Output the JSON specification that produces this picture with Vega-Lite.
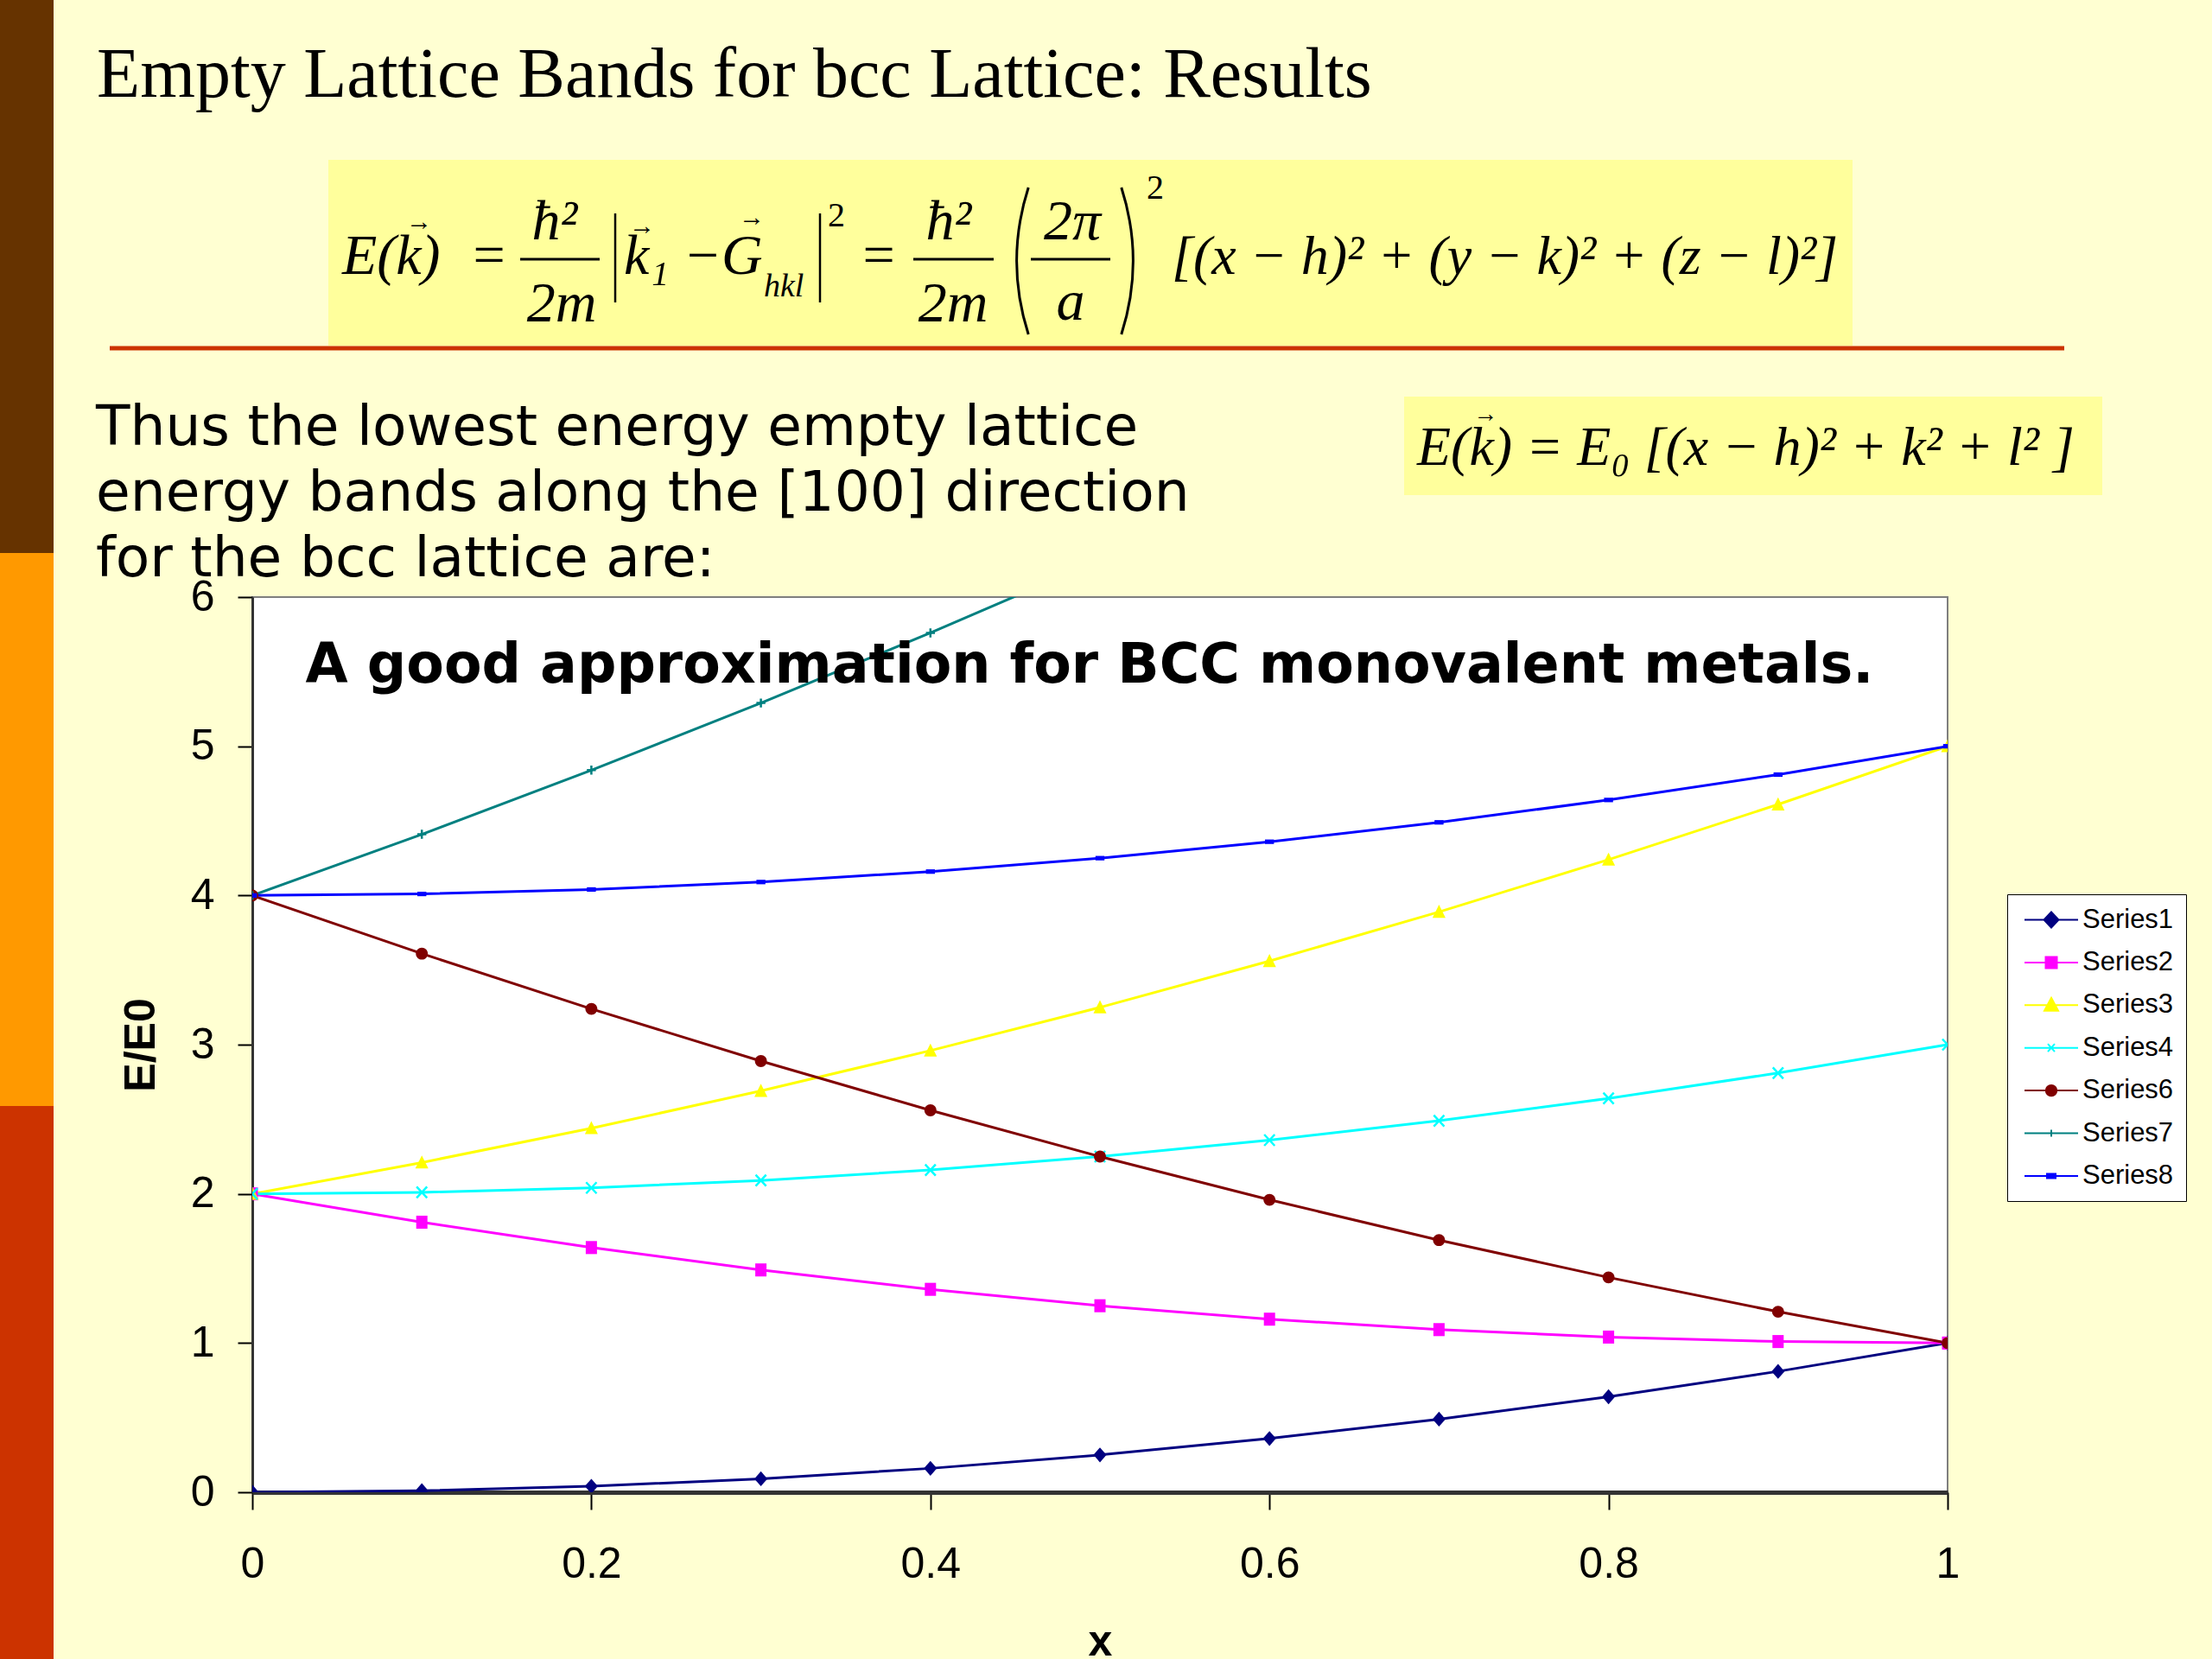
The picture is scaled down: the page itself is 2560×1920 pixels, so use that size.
{
  "$schema": "https://vega.github.io/schema/vega-lite/v6.json",
  "width": 1962,
  "height": 1036,
  "autosize": {"type": "none"},
  "padding": {"left": 292, "top": 691, "right": 306, "bottom": 193},
  "background": "#FFFFD2",
  "config": {
    "view": {"fill": "white", "stroke": "#7f7f7f", "strokeWidth": 2},
    "axis": {"grid": false, "labelFont": "Liberation Sans", "labelFontSize": 50, "labelColor": "black", "titleFont": "Liberation Sans", "titleFontSize": 50, "titleFontWeight": "bold", "titleColor": "black", "tickColor": "black", "tickWidth": 2, "labelFlush": false},
    "axisX": {"domainColor": "#333333", "domainWidth": 5, "tickSize": 20, "labelPadding": 38, "titlePadding": 40},
    "axisY": {"domainColor": "#333333", "domainWidth": 3, "tickSize": 17, "labelPadding": 27, "titlePadding": 32}
  },
  "data": {"values": [
    {"x": 0, "y": 0, "s": "Series1"}, {"x": 0.1, "y": 0.01, "s": "Series1"}, {"x": 0.2, "y": 0.04, "s": "Series1"}, {"x": 0.3, "y": 0.09, "s": "Series1"}, {"x": 0.4, "y": 0.16, "s": "Series1"}, {"x": 0.5, "y": 0.25, "s": "Series1"}, {"x": 0.6, "y": 0.36, "s": "Series1"}, {"x": 0.7, "y": 0.49, "s": "Series1"}, {"x": 0.8, "y": 0.64, "s": "Series1"}, {"x": 0.9, "y": 0.81, "s": "Series1"}, {"x": 1, "y": 1, "s": "Series1"},
    {"x": 0, "y": 2, "s": "Series2"}, {"x": 0.1, "y": 1.81, "s": "Series2"}, {"x": 0.2, "y": 1.64, "s": "Series2"}, {"x": 0.3, "y": 1.49, "s": "Series2"}, {"x": 0.4, "y": 1.36, "s": "Series2"}, {"x": 0.5, "y": 1.25, "s": "Series2"}, {"x": 0.6, "y": 1.16, "s": "Series2"}, {"x": 0.7, "y": 1.09, "s": "Series2"}, {"x": 0.8, "y": 1.04, "s": "Series2"}, {"x": 0.9, "y": 1.01, "s": "Series2"}, {"x": 1, "y": 1, "s": "Series2"},
    {"x": 0, "y": 2, "s": "Series3"}, {"x": 0.1, "y": 2.21, "s": "Series3"}, {"x": 0.2, "y": 2.44, "s": "Series3"}, {"x": 0.3, "y": 2.69, "s": "Series3"}, {"x": 0.4, "y": 2.96, "s": "Series3"}, {"x": 0.5, "y": 3.25, "s": "Series3"}, {"x": 0.6, "y": 3.56, "s": "Series3"}, {"x": 0.7, "y": 3.89, "s": "Series3"}, {"x": 0.8, "y": 4.24, "s": "Series3"}, {"x": 0.9, "y": 4.61, "s": "Series3"}, {"x": 1, "y": 5, "s": "Series3"},
    {"x": 0, "y": 2, "s": "Series4"}, {"x": 0.1, "y": 2.01, "s": "Series4"}, {"x": 0.2, "y": 2.04, "s": "Series4"}, {"x": 0.3, "y": 2.09, "s": "Series4"}, {"x": 0.4, "y": 2.16, "s": "Series4"}, {"x": 0.5, "y": 2.25, "s": "Series4"}, {"x": 0.6, "y": 2.36, "s": "Series4"}, {"x": 0.7, "y": 2.49, "s": "Series4"}, {"x": 0.8, "y": 2.64, "s": "Series4"}, {"x": 0.9, "y": 2.81, "s": "Series4"}, {"x": 1, "y": 3, "s": "Series4"},
    {"x": 0, "y": 4, "s": "Series6"}, {"x": 0.1, "y": 3.61, "s": "Series6"}, {"x": 0.2, "y": 3.24, "s": "Series6"}, {"x": 0.3, "y": 2.89, "s": "Series6"}, {"x": 0.4, "y": 2.56, "s": "Series6"}, {"x": 0.5, "y": 2.25, "s": "Series6"}, {"x": 0.6, "y": 1.96, "s": "Series6"}, {"x": 0.7, "y": 1.69, "s": "Series6"}, {"x": 0.8, "y": 1.44, "s": "Series6"}, {"x": 0.9, "y": 1.21, "s": "Series6"}, {"x": 1, "y": 1, "s": "Series6"},
    {"x": 0, "y": 4, "s": "Series7"}, {"x": 0.1, "y": 4.41, "s": "Series7"}, {"x": 0.2, "y": 4.84, "s": "Series7"}, {"x": 0.3, "y": 5.29, "s": "Series7"}, {"x": 0.4, "y": 5.76, "s": "Series7"}, {"x": 0.5, "y": 6.25, "s": "Series7"}, {"x": 0.6, "y": 6.76, "s": "Series7"}, {"x": 0.7, "y": 7.29, "s": "Series7"}, {"x": 0.8, "y": 7.84, "s": "Series7"}, {"x": 0.9, "y": 8.41, "s": "Series7"}, {"x": 1, "y": 9, "s": "Series7"},
    {"x": 0, "y": 4, "s": "Series8"}, {"x": 0.1, "y": 4.01, "s": "Series8"}, {"x": 0.2, "y": 4.04, "s": "Series8"}, {"x": 0.3, "y": 4.09, "s": "Series8"}, {"x": 0.4, "y": 4.16, "s": "Series8"}, {"x": 0.5, "y": 4.25, "s": "Series8"}, {"x": 0.6, "y": 4.36, "s": "Series8"}, {"x": 0.7, "y": 4.49, "s": "Series8"}, {"x": 0.8, "y": 4.64, "s": "Series8"}, {"x": 0.9, "y": 4.81, "s": "Series8"}, {"x": 1, "y": 5, "s": "Series8"}
  ]},
  "layer": [
    {"data": {"values": [{}]}, "mark": {"type": "rect", "color": "#663300", "clip": false},
     "encoding": {"x": {"datum": -0.2, "type": "quantitative"}, "x2": {"datum": -0.11723}, "y": {"datum": 10.1, "type": "quantitative"}, "y2": {"datum": 6.2953}}},
    {"data": {"values": [{}]}, "mark": {"type": "rect", "color": "#FF9900"},
     "encoding": {"x": {"datum": -0.2, "type": "quantitative"}, "x2": {"datum": -0.11723}, "y": {"datum": 6.2953, "type": "quantitative"}, "y2": {"datum": 2.5888}}},
    {"data": {"values": [{}]}, "mark": {"type": "rect", "color": "#CC3300"},
     "encoding": {"x": {"datum": -0.2, "type": "quantitative"}, "x2": {"datum": -0.11723}, "y": {"datum": 2.5888, "type": "quantitative"}, "y2": {"datum": -1.2}}},
    {"data": {"values": [{}]}, "mark": {"type": "rect", "color": "#FFFF9C"},
     "encoding": {"x": {"datum": 0.04485, "type": "quantitative"}, "x2": {"datum": 0.94393}, "y": {"datum": 8.9305, "type": "quantitative"}, "y2": {"datum": 7.6853}}},
    {"data": {"values": [{}]}, "mark": {"type": "rect", "color": "#FFFF9C"},
     "encoding": {"x": {"datum": 0.67941, "type": "quantitative"}, "x2": {"datum": 1.09123}, "y": {"datum": 7.3436, "type": "quantitative"}, "y2": {"datum": 6.6834}}},
    {"data": {"values": [{}]}, "mark": {"type": "rule", "color": "#CC3300", "strokeWidth": 5},
     "encoding": {"x": {"datum": -0.0841, "type": "quantitative"}, "x2": {"datum": 1.06881}, "y": {"datum": 7.6679, "type": "quantitative"}}},
    {"data": {"values": [{}]}, "mark": {"type": "text", "text": "Empty Lattice Bands for bcc Lattice: Results", "font": "Liberation Serif", "fontSize": 82, "align": "left", "baseline": "alphabetic", "color": "black"},
     "encoding": {"x": {"datum": -0.0917, "type": "quantitative"}, "y": {"datum": 9.3533, "type": "quantitative"}}},
    {"data": {"values": [{}]}, "mark": {"type": "text", "text": "Thus the lowest energy empty lattice", "font": "DejaVu Sans", "fontSize": 64.6, "align": "left", "baseline": "alphabetic", "color": "black"},
     "encoding": {"x": {"datum": -0.09225, "type": "quantitative"}, "y": {"datum": 7.0192, "type": "quantitative"}}},
    {"data": {"values": [{}]}, "mark": {"type": "text", "text": "energy bands along the [100] direction", "font": "DejaVu Sans", "fontSize": 64.6, "align": "left", "baseline": "alphabetic", "color": "black"},
     "encoding": {"x": {"datum": -0.09225, "type": "quantitative"}, "y": {"datum": 6.5791, "type": "quantitative"}}},
    {"data": {"values": [{}]}, "mark": {"type": "text", "text": "for the bcc lattice are:", "font": "DejaVu Sans", "fontSize": 64.6, "align": "left", "baseline": "alphabetic", "color": "black"},
     "encoding": {"x": {"datum": -0.09225, "type": "quantitative"}, "y": {"datum": 6.139, "type": "quantitative"}}},
    {"data": {"values": [{}]}, "mark": {"type": "text", "text": "E(k)", "font": "Liberation Serif", "fontStyle": "italic", "fontSize": 66, "align": "left", "baseline": "alphabetic", "color": "black"},
     "encoding": {"x": {"datum": 0.05301, "type": "quantitative"}, "y": {"datum": 8.166, "type": "quantitative"}}},
    {"data": {"values": [{}]}, "mark": {"type": "text", "text": "→", "font": "Liberation Serif", "fontSize": 30, "align": "center", "baseline": "middle", "color": "black"},
     "encoding": {"x": {"datum": 0.09837, "type": "quantitative"}, "y": {"datum": 8.5135, "type": "quantitative"}}},
    {"data": {"values": [{}]}, "mark": {"type": "text", "text": "=", "font": "Liberation Serif", "fontSize": 66, "align": "center", "baseline": "alphabetic", "color": "black"},
     "encoding": {"x": {"datum": 0.13965, "type": "quantitative"}, "y": {"datum": 8.166, "type": "quantitative"}}},
    {"data": {"values": [{}]}, "mark": {"type": "text", "text": "ħ²", "font": "Liberation Serif", "fontStyle": "italic", "fontSize": 66, "align": "center", "baseline": "alphabetic", "color": "black"},
     "encoding": {"x": {"datum": 0.17839, "type": "quantitative"}, "y": {"datum": 8.3976, "type": "quantitative"}}},
    {"data": {"values": [{}]}, "mark": {"type": "rule", "color": "black", "strokeWidth": 3},
     "encoding": {"x": {"datum": 0.158, "type": "quantitative"}, "x2": {"datum": 0.20489}, "y": {"datum": 8.2644, "type": "quantitative"}}},
    {"data": {"values": [{}]}, "mark": {"type": "text", "text": "2m", "font": "Liberation Serif", "fontStyle": "italic", "fontSize": 66, "align": "center", "baseline": "alphabetic", "color": "black"},
     "encoding": {"x": {"datum": 0.18247, "type": "quantitative"}, "y": {"datum": 7.8475, "type": "quantitative"}}},
    {"data": {"values": [{}]}, "mark": {"type": "rule", "color": "black", "strokeWidth": 2.5},
     "encoding": {"x": {"datum": 0.21407, "type": "quantitative"}, "y": {"datum": 8.5714, "type": "quantitative"}, "y2": {"datum": 7.9749}}},
    {"data": {"values": [{}]}, "mark": {"type": "rule", "color": "black", "strokeWidth": 2.5},
     "encoding": {"x": {"datum": 0.33486, "type": "quantitative"}, "y": {"datum": 8.5714, "type": "quantitative"}, "y2": {"datum": 7.9749}}},
    {"data": {"values": [{}]}, "mark": {"type": "text", "text": "k₁ −", "font": "Liberation Serif", "fontStyle": "italic", "fontSize": 66, "align": "left", "baseline": "alphabetic", "color": "black"},
     "encoding": {"x": {"datum": 0.21916, "type": "quantitative"}, "y": {"datum": 8.166, "type": "quantitative"}}},
    {"data": {"values": [{}]}, "mark": {"type": "text", "text": "G", "font": "Liberation Serif", "fontStyle": "italic", "fontSize": 66, "align": "left", "baseline": "alphabetic", "color": "black"},
     "encoding": {"x": {"datum": 0.27676, "type": "quantitative"}, "y": {"datum": 8.166, "type": "quantitative"}}},
    {"data": {"values": [{}]}, "mark": {"type": "text", "text": "hkl", "font": "Liberation Serif", "fontStyle": "italic", "fontSize": 38, "align": "left", "baseline": "alphabetic", "color": "black"},
     "encoding": {"x": {"datum": 0.30173, "type": "quantitative"}, "y": {"datum": 8.0154, "type": "quantitative"}}},
    {"data": {"values": [{}]}, "mark": {"type": "text", "text": "→", "font": "Liberation Serif", "fontSize": 30, "align": "center", "baseline": "middle", "color": "black"},
     "encoding": {"x": {"datum": 0.22987, "type": "quantitative"}, "y": {"datum": 8.4845, "type": "quantitative"}}},
    {"data": {"values": [{}]}, "mark": {"type": "text", "text": "→", "font": "Liberation Serif", "fontSize": 30, "align": "center", "baseline": "middle", "color": "black"},
     "encoding": {"x": {"datum": 0.2946, "type": "quantitative"}, "y": {"datum": 8.5424, "type": "quantitative"}}},
    {"data": {"values": [{}]}, "mark": {"type": "text", "text": "2", "font": "Liberation Serif", "fontSize": 40, "align": "left", "baseline": "alphabetic", "color": "black"},
     "encoding": {"x": {"datum": 0.33945, "type": "quantitative"}, "y": {"datum": 8.4845, "type": "quantitative"}}},
    {"data": {"values": [{}]}, "mark": {"type": "text", "text": "=", "font": "Liberation Serif", "fontSize": 66, "align": "center", "baseline": "alphabetic", "color": "black"},
     "encoding": {"x": {"datum": 0.36952, "type": "quantitative"}, "y": {"datum": 8.166, "type": "quantitative"}}},
    {"data": {"values": [{}]}, "mark": {"type": "text", "text": "ħ²", "font": "Liberation Serif", "fontStyle": "italic", "fontSize": 66, "align": "center", "baseline": "alphabetic", "color": "black"},
     "encoding": {"x": {"datum": 0.4108, "type": "quantitative"}, "y": {"datum": 8.3976, "type": "quantitative"}}},
    {"data": {"values": [{}]}, "mark": {"type": "rule", "color": "black", "strokeWidth": 3},
     "encoding": {"x": {"datum": 0.38991, "type": "quantitative"}, "x2": {"datum": 0.43731}, "y": {"datum": 8.2644, "type": "quantitative"}}},
    {"data": {"values": [{}]}, "mark": {"type": "text", "text": "2m", "font": "Liberation Serif", "fontStyle": "italic", "fontSize": 66, "align": "center", "baseline": "alphabetic", "color": "black"},
     "encoding": {"x": {"datum": 0.41335, "type": "quantitative"}, "y": {"datum": 7.8475, "type": "quantitative"}}},
    {"data": {"values": [{}]}, "mark": {"type": "point", "shape": "M0.12,-1Q-0.2,0,0.12,1", "size": 28900, "filled": false, "stroke": "black", "strokeWidth": 3, "opacity": 1},
     "encoding": {"x": {"datum": 0.4526, "type": "quantitative"}, "y": {"datum": 8.2528, "type": "quantitative"}}},
    {"data": {"values": [{}]}, "mark": {"type": "point", "shape": "M-0.12,-1Q0.2,0,-0.12,1", "size": 28900, "filled": false, "stroke": "black", "strokeWidth": 3, "opacity": 1},
     "encoding": {"x": {"datum": 0.51784, "type": "quantitative"}, "y": {"datum": 8.2528, "type": "quantitative"}}},
    {"data": {"values": [{}]}, "mark": {"type": "text", "text": "2π", "font": "Liberation Serif", "fontStyle": "italic", "fontSize": 66, "align": "center", "baseline": "alphabetic", "color": "black"},
     "encoding": {"x": {"datum": 0.48369, "type": "quantitative"}, "y": {"datum": 8.3976, "type": "quantitative"}}},
    {"data": {"values": [{}]}, "mark": {"type": "rule", "color": "black", "strokeWidth": 3},
     "encoding": {"x": {"datum": 0.45923, "type": "quantitative"}, "x2": {"datum": 0.50612}, "y": {"datum": 8.2644, "type": "quantitative"}}},
    {"data": {"values": [{}]}, "mark": {"type": "text", "text": "a", "font": "Liberation Serif", "fontStyle": "italic", "fontSize": 66, "align": "center", "baseline": "alphabetic", "color": "black"},
     "encoding": {"x": {"datum": 0.48267, "type": "quantitative"}, "y": {"datum": 7.8591, "type": "quantitative"}}},
    {"data": {"values": [{}]}, "mark": {"type": "text", "text": "2", "font": "Liberation Serif", "fontSize": 40, "align": "center", "baseline": "alphabetic", "color": "black"},
     "encoding": {"x": {"datum": 0.53262, "type": "quantitative"}, "y": {"datum": 8.6699, "type": "quantitative"}}},
    {"data": {"values": [{}]}, "mark": {"type": "text", "text": "[(x − h)² + (y − k)² + (z − l)²]", "font": "Liberation Serif", "fontStyle": "italic", "fontSize": 64, "align": "left", "baseline": "alphabetic", "color": "black"},
     "encoding": {"x": {"datum": 0.5423, "type": "quantitative"}, "y": {"datum": 8.166, "type": "quantitative"}}},
    {"data": {"values": [{}]}, "mark": {"type": "text", "text": "E(k) = E₀ [(x − h)²  +  k²  +  l²  ]", "font": "Liberation Serif", "fontStyle": "italic", "fontSize": 64, "align": "left", "baseline": "alphabetic", "color": "black"},
     "encoding": {"x": {"datum": 0.68705, "type": "quantitative"}, "y": {"datum": 6.8861, "type": "quantitative"}}},
    {"data": {"values": [{}]}, "mark": {"type": "text", "text": "→", "font": "Liberation Serif", "fontSize": 28, "align": "center", "baseline": "middle", "color": "black"},
     "encoding": {"x": {"datum": 0.7275, "type": "quantitative"}, "y": {"datum": 7.2219, "type": "quantitative"}}},
    {"mark": {"type": "line", "interpolate": "monotone", "strokeWidth": 3, "clip": true},
     "encoding": {
       "x": {"field": "x", "type": "quantitative", "title": "x", "scale": {"domain": [0, 1], "nice": false}, "axis": {"values": [0, 0.2, 0.4, 0.6, 0.8, 1], "format": "~g"}},
       "y": {"field": "y", "type": "quantitative", "title": "E/E0", "scale": {"domain": [0, 6], "nice": false}, "axis": {"values": [0, 1, 2, 3, 4, 5, 6], "format": "d"}},
       "color": {"field": "s", "type": "nominal",
         "scale": {"domain": ["Series1", "Series2", "Series3", "Series4", "Series6", "Series7", "Series8"], "range": ["#000080", "#FF00FF", "#FFFF00", "#00FFFF", "#800000", "#008080", "#0000FF"]},
         "legend": {"title": null, "orient": "none", "legendX": 2031, "legendY": 344, "labelFont": "Liberation Sans", "labelFontSize": 31, "labelColor": "black", "symbolSize": 400, "symbolStrokeWidth": 2, "symbolOpacity": 1, "labelOffset": 42, "padding": 14, "rowPadding": 17.4, "strokeColor": "black", "fillColor": "white"}}
     }},
    {"transform": [{"filter": "datum.s === 'Series1'"}], "mark": {"type": "point", "shape": "M0,-1L0.87,0L0,1L-0.87,0Z", "size": 300, "filled": true, "color": "#000080", "opacity": 1, "clip": true},
     "encoding": {"x": {"field": "x", "type": "quantitative"}, "y": {"field": "y", "type": "quantitative"}}},
    {"transform": [{"filter": "datum.s === 'Series2'"}], "mark": {"type": "point", "shape": "M-0.75,-0.87H0.75V0.87H-0.75Z", "size": 300, "filled": true, "color": "#FF00FF", "opacity": 1, "clip": true},
     "encoding": {"x": {"field": "x", "type": "quantitative"}, "y": {"field": "y", "type": "quantitative"}}},
    {"transform": [{"filter": "datum.s === 'Series3'"}], "mark": {"type": "point", "shape": "M0,-0.95L0.87,0.8H-0.87Z", "size": 300, "filled": true, "color": "#FFFF00", "opacity": 1, "clip": true},
     "encoding": {"x": {"field": "x", "type": "quantitative"}, "y": {"field": "y", "type": "quantitative"}}},
    {"transform": [{"filter": "datum.s === 'Series4'"}], "mark": {"type": "point", "shape": "M-0.7,-0.75L0.7,0.75M-0.7,0.75L0.7,-0.75", "size": 300, "filled": false, "color": "#00FFFF", "strokeWidth": 2.5, "opacity": 1, "clip": true},
     "encoding": {"x": {"field": "x", "type": "quantitative"}, "y": {"field": "y", "type": "quantitative"}}},
    {"transform": [{"filter": "datum.s === 'Series6'"}], "mark": {"type": "point", "shape": "M0.8,0A0.8,0.8,0,1,1,-0.8,0A0.8,0.8,0,1,1,0.8,0Z", "size": 300, "filled": true, "color": "#800000", "opacity": 1, "clip": true},
     "encoding": {"x": {"field": "x", "type": "quantitative"}, "y": {"field": "y", "type": "quantitative"}}},
    {"transform": [{"filter": "datum.s === 'Series7'"}], "mark": {"type": "point", "shape": "M0,-0.6V0.6M-0.6,0H0.6", "size": 300, "filled": false, "color": "#008080", "strokeWidth": 2.5, "opacity": 1, "clip": true},
     "encoding": {"x": {"field": "x", "type": "quantitative"}, "y": {"field": "y", "type": "quantitative"}}},
    {"transform": [{"filter": "datum.s === 'Series8'"}], "mark": {"type": "point", "shape": "M-0.6,-0.3H0.6V0.3H-0.6Z", "size": 300, "filled": true, "color": "#0000FF", "opacity": 1, "clip": true},
     "encoding": {"x": {"field": "x", "type": "quantitative"}, "y": {"field": "y", "type": "quantitative"}}},
    {"mark": {"type": "point", "filled": true, "strokeWidth": 2, "opacity": 0},
     "encoding": {
       "x": {"field": "x", "type": "quantitative"},
       "y": {"field": "y", "type": "quantitative"},
       "color": {"field": "s", "type": "nominal"},
       "stroke": {"field": "s", "type": "nominal", "legend": null,
         "scale": {"domain": ["Series1", "Series2", "Series3", "Series4", "Series6", "Series7", "Series8"], "range": ["#000080", "#FF00FF", "#FFFF00", "#00FFFF", "#800000", "#008080", "#0000FF"]}},
       "shape": {"field": "s", "type": "nominal", "legend": null,
         "scale": {"domain": ["Series1", "Series2", "Series3", "Series4", "Series6", "Series7", "Series8"], "range": ["M-0.95,0H5.25M2.15,-0.9L3,0L2.15,0.9L1.3,0Z", "M-0.95,0H5.25M1.5,-0.65H2.8V0.65H1.5Z", "M-0.95,0H5.25M2.15,-0.85L2.95,0.65H1.35Z", "M-0.95,0H5.25M1.75,-0.45L2.55,0.45M1.75,0.45L2.55,-0.45", "M-0.95,0H5.25M2.77,0A0.62,0.62,0,1,1,1.53,0A0.62,0.62,0,1,1,2.77,0Z", "M-0.95,0H5.25M2.15,-0.4V0.4M1.75,0H2.55", "M-0.95,0H5.25M1.65,-0.25H2.65V0.25H1.65Z"]}}
     }},
    {"data": {"values": [{}]}, "mark": {"type": "text", "text": "A good approximation for BCC monovalent metals.", "font": "DejaVu Sans", "fontWeight": "bold", "fontSize": 63.5, "align": "center", "baseline": "alphabetic", "color": "black"},
     "encoding": {"x": {"datum": 0.4939, "type": "quantitative"}, "y": {"datum": 5.4266, "type": "quantitative"}}}
  ]
}
